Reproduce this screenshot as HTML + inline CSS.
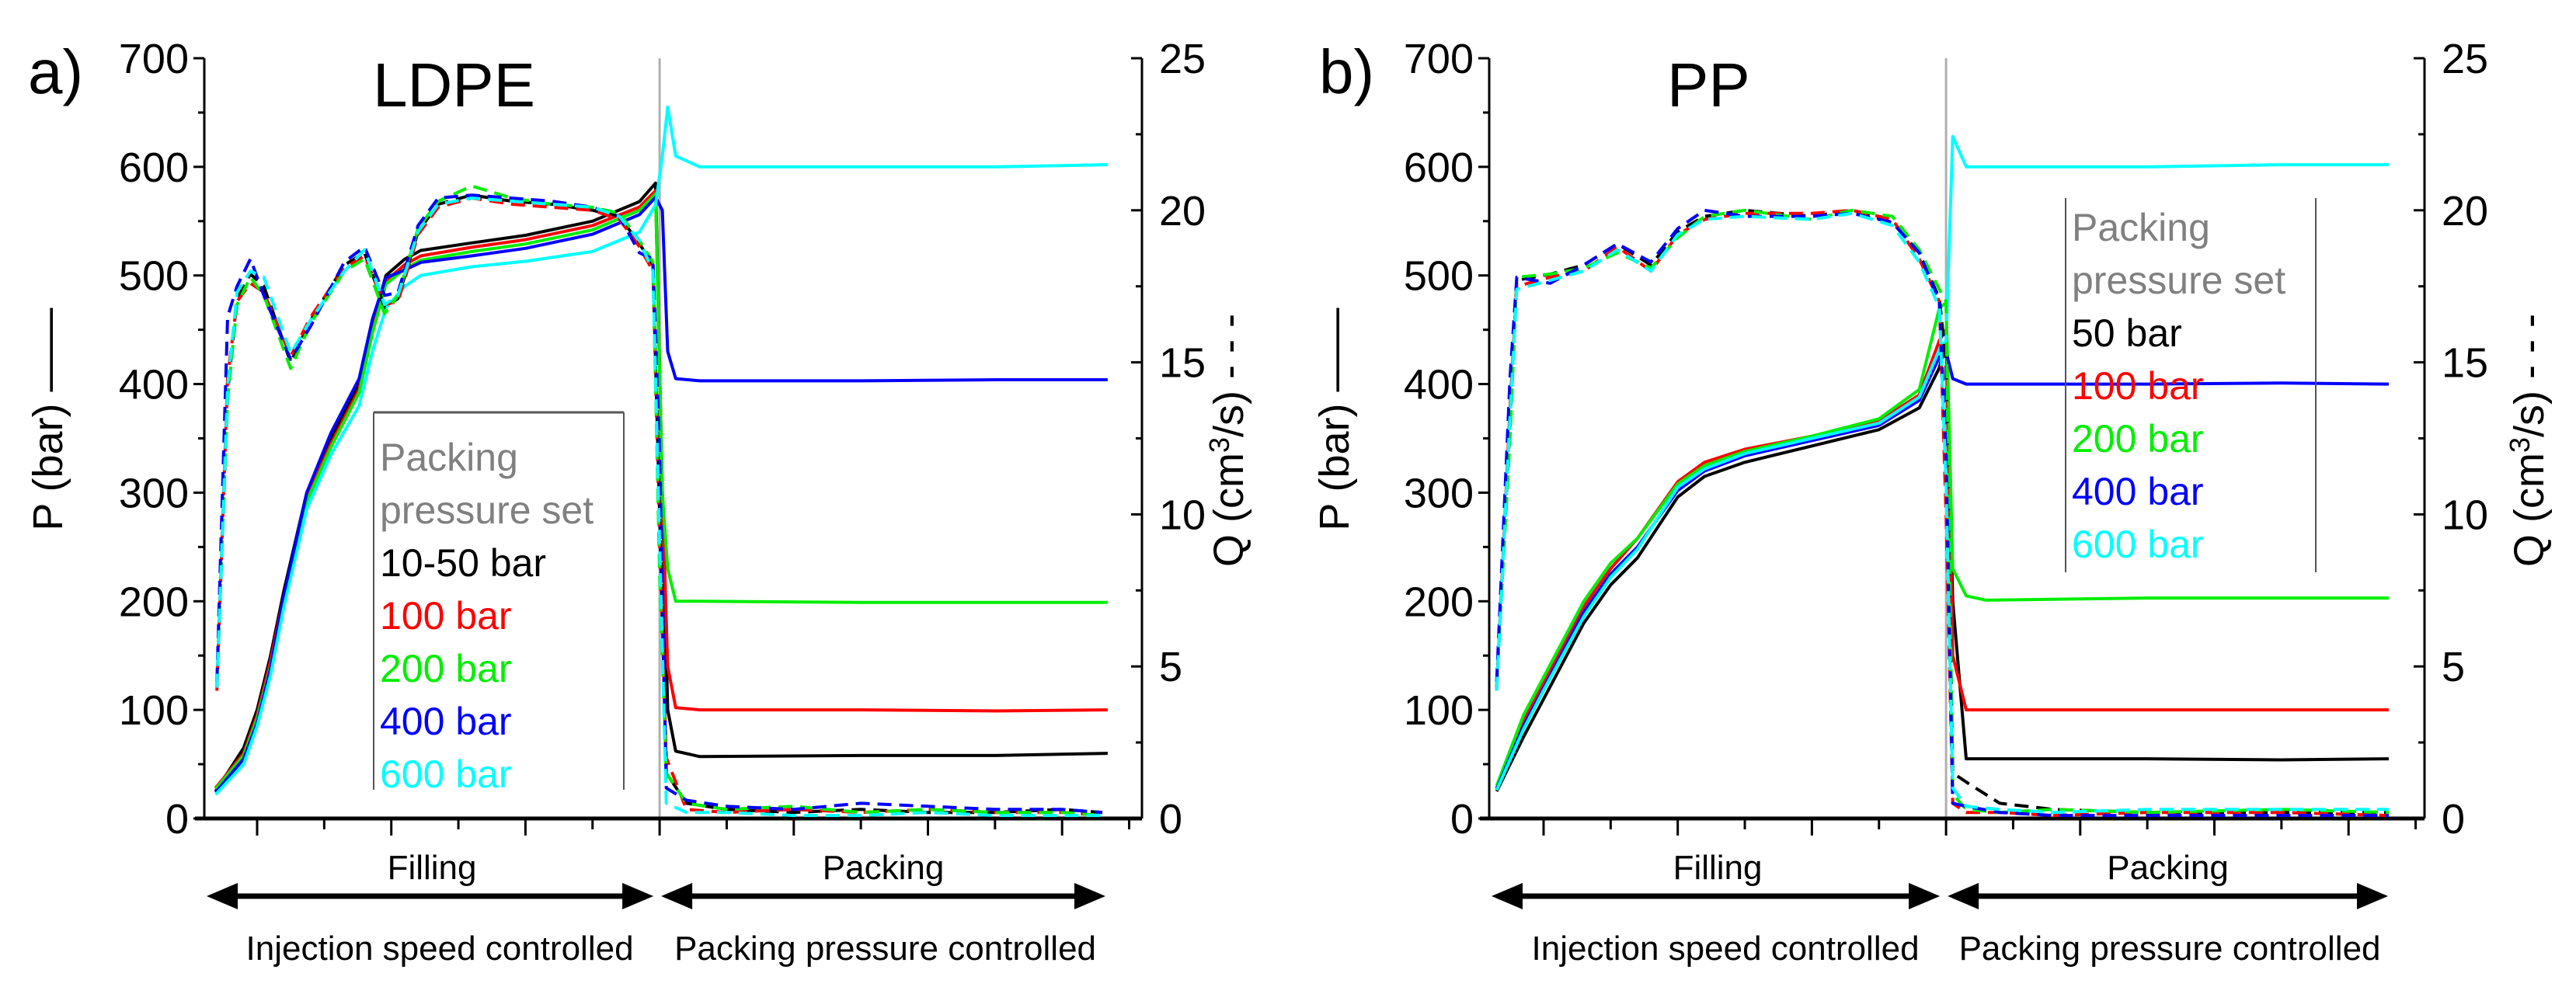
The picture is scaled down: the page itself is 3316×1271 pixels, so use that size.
<!DOCTYPE html>
<html><head><meta charset="utf-8">
<style>
html,body{margin:0;padding:0;background:#fff;}
svg{display:block;font-family:"Liberation Sans",sans-serif;}
</style></head>
<body>
<svg id="fig" width="3316" height="1271" viewBox="0 0 3316 1271" xmlns="http://www.w3.org/2000/svg"></svg>
<script>
// ---------- data (t in time-tick units; divider at t=3) ----------
// LDPE pressure (bar)
const ldpeT = [-0.31,-0.1,0,0.1,0.2,0.37,0.55,0.76,0.86,0.96,1.1,1.22,1.6,2.0,2.5,2.85,2.97,3.02,3.06,3.12,3.3,4.5,5.5,6.34];
const ldpeP_50  = [25,65,100,150,210,300,350,400,455,500,515,523,530,537,550,568,585,300,100,62,57,58,58,60];
const ldpeP_100 = [28,60,95,145,205,295,345,395,450,495,510,518,526,533,546,563,578,300,140,102,100,100,99,100];
const ldpeP_200 = [27,58,92,140,200,292,342,392,447,492,506,514,522,529,542,560,575,300,230,200,200,199,199,199];
const ldpeP_400 = [24,55,88,138,205,300,355,405,460,498,505,512,518,525,538,556,572,560,430,405,403,403,404,404];
const ldpeP_600 = [22,50,85,132,195,285,335,380,430,470,490,500,508,513,522,540,565,610,655,610,600,600,600,602];
// LDPE flow rate (cm3/s)
const ldpeQT = [-0.3,-0.22,-0.15,-0.05,0.05,0.25,0.4,0.65,0.8,0.95,1.05,1.2,1.35,1.6,1.9,2.2,2.5,2.7,2.85,2.95,3.0,3.05,3.2,3.5,4.0,4.5,5.0,5.5,6.0,6.3];
const ldpeQ_50  = [4.3,14,17.1,17.9,17.5,15.0,16.4,18.2,18.6,16.8,17.1,19.3,20.2,20.5,20.3,20.2,20.0,19.8,18.9,18.2,10,1.5,0.5,0.3,0.2,0.3,0.2,0.2,0.3,0.2];
const ldpeQ_100 = [4.2,14.5,17.0,17.6,17.3,15.2,16.5,18.1,18.5,16.9,17.0,19.2,20.1,20.4,20.2,20.1,20.0,19.7,18.8,18.0,9,2.0,0.3,0.2,0.3,0.2,0.3,0.2,0.2,0.1];
const ldpeQ_200 = [4.4,13.8,16.9,17.8,17.2,14.8,16.3,18.0,18.4,16.6,17.2,19.4,20.3,20.8,20.4,20.2,20.1,19.9,19.0,18.3,8,1.5,0.5,0.3,0.4,0.2,0.3,0.2,0.2,0.1];
const ldpeQ_400 = [4.5,16.5,17.5,18.4,17.2,15.1,16.2,18.3,18.8,17.2,17.3,19.5,20.4,20.5,20.4,20.3,20.1,19.8,18.6,18.4,12,1.0,0.6,0.4,0.3,0.5,0.4,0.3,0.3,0.2];
const ldpeQ_600 = [4.3,14.2,17.3,18.0,17.8,15.3,16.4,18.0,18.7,16.9,17.2,19.3,20.2,20.4,20.3,20.2,20.1,19.8,19.0,18.0,9,0.5,0.2,0.2,0.1,0.1,0.2,0.1,0.1,0.1];
// PP pressure (bar)
const ppT = [-0.35,-0.15,0,0.3,0.5,0.7,1.0,1.2,1.5,2.0,2.5,2.8,2.95,3.0,3.05,3.15,3.3,4.5,5.5,6.3];
const ppP_50  = [25,75,110,180,215,240,296,315,328,343,358,378,415,440,200,55,55,55,54,55];
const ppP_100 = [28,90,125,195,230,258,310,328,340,352,366,390,440,450,150,100,100,100,100,100];
const ppP_200 = [30,95,130,200,235,258,308,325,338,352,368,395,470,475,230,205,201,203,203,203];
const ppP_400 = [27,85,120,190,225,250,302,320,334,348,362,385,425,430,405,400,400,400,401,400];
const ppP_600 = [26,82,118,186,222,248,305,322,336,350,364,388,432,440,628,600,600,600,602,602];
// PP flow rate (cm3/s)
const ppQT = [-0.35,-0.25,-0.2,0.05,0.3,0.55,0.8,1.0,1.2,1.5,2.0,2.3,2.6,2.8,2.95,3.0,3.05,3.15,3.4,3.8,4.5,5.5,6.3];
const ppQ_50  = [4.3,13,17.7,17.9,18.2,18.9,18.2,19.3,19.8,20.0,19.8,20.0,19.6,18.6,17.1,15,1.5,1.2,0.5,0.3,0.2,0.2,0.2];
const ppQ_100 = [4.2,13.5,17.5,17.8,18.0,18.8,18.0,19.2,19.7,19.9,19.9,20.0,19.7,18.4,17.0,10,0.5,0.2,0.2,0.1,0.2,0.2,0.1];
const ppQ_200 = [4.4,12.5,17.8,17.9,18.1,18.6,18.1,19.1,19.8,20.0,19.7,20.0,19.8,18.7,17.4,17,0.8,0.3,0.2,0.3,0.2,0.3,0.2];
const ppQ_400 = [4.5,14.5,17.8,17.6,18.2,18.9,18.3,19.4,20.0,19.8,19.8,19.9,19.6,18.6,17.0,12,0.5,0.4,0.2,0.1,0.1,0.1,0.1];
const ppQ_600 = [4.2,13.2,17.4,17.7,18.0,18.7,18.0,19.2,19.7,19.8,19.7,19.9,19.5,18.3,16.8,11,1.0,0.4,0.3,0.2,0.3,0.3,0.3];
// axis ticks
const pTicks = [0,100,200,300,400,500,600,700];
const qTicks = [0,5,10,15,20,25];
const seriesColors = ["#000000","#ff0000","#00ee00","#0000ff","#00ffff"];
const ldpeLegend = ["10-50 bar","100 bar","200 bar","400 bar","600 bar"];
const ppLegend = ["50 bar","100 bar","200 bar","400 bar","600 bar"];

// ---------- drawing ----------
const NS = "http://www.w3.org/2000/svg";
const svg = document.getElementById("fig");
function mk(tag, attrs, parent) {
  const e = document.createElementNS(NS, tag);
  for (const k in attrs) e.setAttribute(k, attrs[k]);
  (parent || svg).appendChild(e);
  return e;
}
const Y0 = 1054, YTOP = 75;
function yP(p){ return Y0 - (p/700)*(Y0-YTOP); }
function yQ(q){ return Y0 - (q/25)*(Y0-YTOP); }

function panel(cfg) {
  const g = mk("g", {});
  
  
  const xT = t => cfg.x0 + t*172.7;
  const L = cfg.left, R = cfg.right;
  const dv = mk("line",{x1:xT(3),x2:xT(3),y1:YTOP,y2:Y0,stroke:"#b0b0b0","stroke-width":3},g);
  
  
  const la = mk("line",{x1:L,x2:L,y1:YTOP,y2:Y0,stroke:"#000","stroke-width":3},g);
  
  
  const ra = mk("line",{x1:R,x2:R,y1:YTOP,y2:Y0,stroke:"#000","stroke-width":3},g);
  
  
  const ba = mk("line",{x1:L-12,x2:R,y1:Y0,y2:Y0,stroke:"#000","stroke-width":5},g);
  
  
  pTicks.forEach(p=>{
    mk("line",{x1:L-14,x2:L,y1:yP(p),y2:yP(p),stroke:"#000","stroke-width":3},g);
    if (p<700) mk("line",{x1:L-8,x2:L,y1:yP(p+50),y2:yP(p+50),stroke:"#000","stroke-width":3},g);
    const tx = mk("text",{x:L-20,y:yP(p)+19,"text-anchor":"end","font-size":54},g);
    tx.textContent = p;
    
    
  });
  qTicks.forEach(q=>{
    mk("line",{x1:R-14,x2:R,y1:yQ(q),y2:yQ(q),stroke:"#000","stroke-width":3},g);
    if (q<25) mk("line",{x1:R-8,x2:R,y1:yQ(q+2.5),y2:yQ(q+2.5),stroke:"#000","stroke-width":3},g);
    const tx = mk("text",{x:R+22,y:yQ(q)+19,"text-anchor":"start","font-size":54},g);
    tx.textContent = q;
    
    
  });
  for (let i=0;i<=13;i++){
    const t = i*0.5;
    const x = xT(t);
    if (x > R-5) break;
    mk("line",{x1:x,x2:x,y1:Y0,y2:Y0+(i%2===0?22:14),stroke:"#000","stroke-width":3},g);
  }
  cfg.pSeries.forEach((arr,i)=>{
    const pts = cfg.pT.map((t,j)=>xT(t).toFixed(1)+","+yP(arr[j]).toFixed(1)).join(" ");
    const pl = mk("polyline",{points:pts,fill:"none",stroke:seriesColors[i],"stroke-width":4,"stroke-linejoin":"round"},g);
    
    
  });
  cfg.qSeries.forEach((arr,i)=>{
    const pts = cfg.qT.map((t,j)=>xT(t).toFixed(1)+","+yQ(arr[j]).toFixed(1)).join(" ");
    const pl = mk("polyline",{points:pts,fill:"none",stroke:seriesColors[i],"stroke-width":4,"stroke-dasharray":"18 10","stroke-linejoin":"round"},g);
    
    
  });
  const pl1 = mk("text",{x:cfg.pLabX,y:540,"font-size":54,"text-anchor":"middle",transform:`rotate(-90 ${cfg.pLabX} 540)`},g);
  pl1.textContent = "P (bar) ——";
  
  
  const ql = mk("text",{x:cfg.qLabX,y:567,"font-size":54,"text-anchor":"middle",transform:`rotate(-90 ${cfg.qLabX} 567)`},g);
  ql.innerHTML = 'Q (cm<tspan font-size="36" dy="-18">3</tspan><tspan dy="18">/s) - - -</tspan>';
  
  
  const pn = mk("text",{x:cfg.letX,y:120,"font-size":80},g);
  pn.textContent = cfg.letter;
  
  
  const tt = mk("text",{x:cfg.titleX,y:137,"font-size":80},g);
  tt.textContent = cfg.title;
  
  
  const f = mk("text",{x:(L+xT(3))/2,y:1132,"font-size":44,"text-anchor":"middle"},g);
  f.textContent = "Filling";
  
  
  const pk = mk("text",{x:(xT(3)+R-45)/2,y:1132,"font-size":44,"text-anchor":"middle"},g);
  pk.textContent = "Packing";
  
  
  [[L+3,xT(3)-8],[xT(3)+2,R-47]].forEach(([a,b])=>{
    const ar = mk("g",{},g);
    
    
    mk("line",{x1:a+30,x2:b-30,y1:1154,y2:1154,stroke:"#000","stroke-width":7},ar);
    mk("polygon",{points:`${a},1154 ${a+40},1137 ${a+40},1171`,fill:"#000"},ar);
    mk("polygon",{points:`${b},1154 ${b-40},1137 ${b-40},1171`,fill:"#000"},ar);
  });
  const i1 = mk("text",{x:(L+xT(3))/2+10,y:1236,"font-size":44,"text-anchor":"middle"},g);
  i1.textContent = "Injection speed controlled";
  
  
  const i2 = mk("text",{x:(xT(3)+R)/2-20,y:1236,"font-size":44,"text-anchor":"middle"},g);
  i2.textContent = "Packing pressure controlled";
  
  
  const lg = mk("g",{},g);
  
  
  const b = cfg.leg;
  mk("line",{x1:b.x1,x2:b.x1,y1:b.y1,y2:b.y2,stroke:"#555","stroke-width":2},lg);
  mk("line",{x1:b.x2,x2:b.x2,y1:b.y1,y2:b.y2,stroke:"#555","stroke-width":2},lg);
  if (b.top) mk("line",{x1:b.x1,x2:b.x2,y1:b.y1,y2:b.y1,stroke:"#555","stroke-width":3},lg);
  const h1 = mk("text",{x:b.x1+8,y:b.ty,"font-size":50,fill:"#808080"},lg);
  h1.textContent = "Packing";
  const h2 = mk("text",{x:b.x1+8,y:b.ty+68,"font-size":50,fill:"#808080"},lg);
  h2.textContent = "pressure set";
  cfg.labels.forEach((s,i)=>{
    const e = mk("text",{x:b.x1+8,y:b.ty+68*(i+2),"font-size":50,fill:seriesColors[i]},lg);
    e.textContent = s;
    
    
  });
}

panel({name:"ldpe-panel", x0:331, left:263, right:1470, letter:"a)", letX:36, title:"LDPE", titleX:480,
  pLabX:80, qLabX:1600, pT:ldpeT, qT:ldpeQT,
  pSeries:[ldpeP_50,ldpeP_100,ldpeP_200,ldpeP_400,ldpeP_600],
  qSeries:[ldpeQ_50,ldpeQ_100,ldpeQ_200,ldpeQ_400,ldpeQ_600],
  labels:ldpeLegend, leg:{x1:481,x2:803,y1:531,y2:1017,ty:606,top:true}});
panel({name:"pp-panel", x0:1987, left:1917, right:3121, letter:"b)", letX:1698, title:"PP", titleX:2146,
  pLabX:1736, qLabX:3274, pT:ppT, qT:ppQT,
  pSeries:[ppP_50,ppP_100,ppP_200,ppP_400,ppP_600],
  qSeries:[ppQ_50,ppQ_100,ppQ_200,ppQ_400,ppQ_600],
  labels:ppLegend, leg:{x1:2659,x2:2981,y1:255,y2:737,ty:310,top:false}});
</script>
</body></html>
